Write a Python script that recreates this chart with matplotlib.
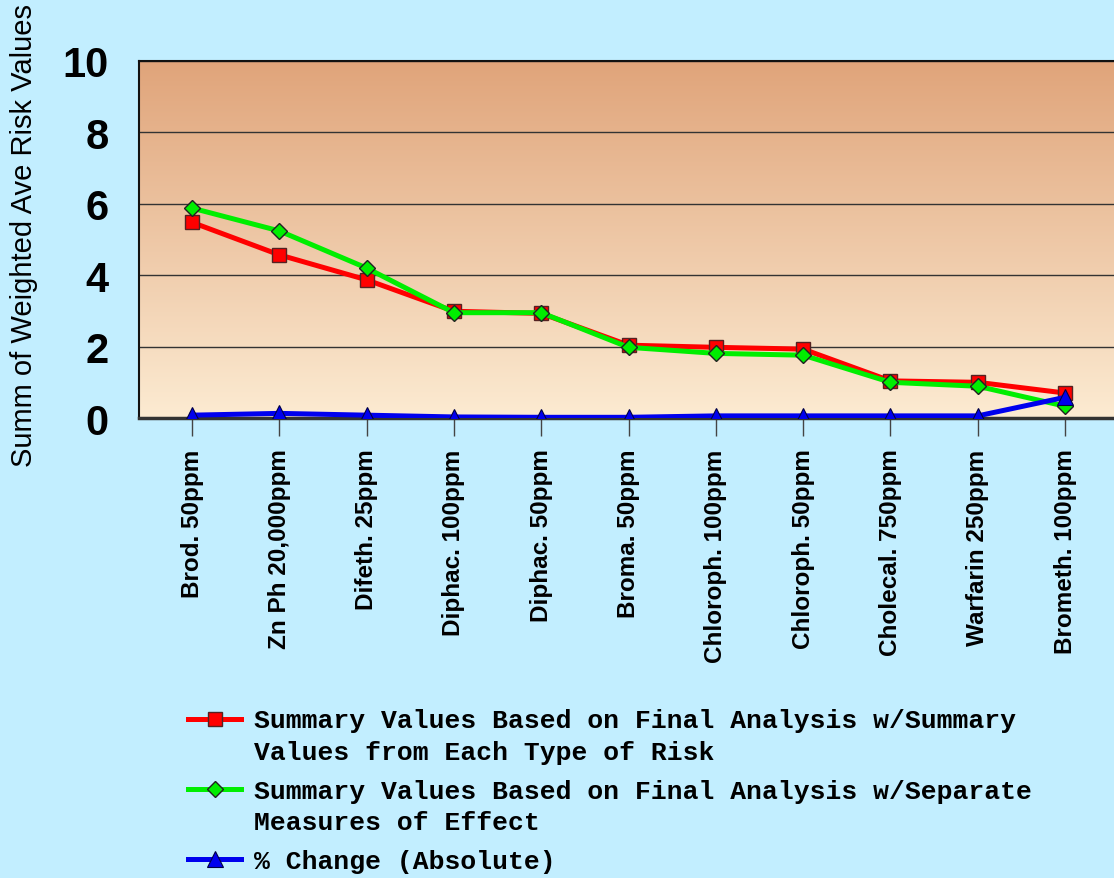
import matplotlib
matplotlib.use("Agg")
import matplotlib.pyplot as plt
from matplotlib.legend_handler import HandlerLine2D
import numpy as np

# data
compounds = ["Brod. 50ppm", "Zn Ph 20,000ppm", "Difeth. 25ppm", "Diphac. 100ppm",
             "Diphac. 50ppm", "Broma. 50ppm", "Chloroph. 100ppm", "Chloroph. 50ppm",
             "Cholecal. 750ppm", "Warfarin 250ppm", "Brometh. 100ppm"]
summary_types = [5.48, 4.57, 3.87, 2.99, 2.93, 2.04, 1.98, 1.93, 1.04, 1.00, 0.70]
summary_effect = [5.88, 5.24, 4.20, 2.95, 2.95, 1.98, 1.81, 1.76, 1.00, 0.89, 0.33]
pct_change = [0.08, 0.13, 0.08, 0.03, 0.02, 0.02, 0.06, 0.06, 0.06, 0.06, 0.58]

labels = ["Summary Values Based on Final Analysis w/Summary\nValues from Each Type of Risk",
          "Summary Values Based on Final Analysis w/Separate\nMeasures of Effect",
          "% Change (Absolute)"]


class FirstLineHandler(HandlerLine2D):
    # put the legend sample next to the first line of a two-line label
    def create_artists(self, legend, orig_handle, xdescent, ydescent, width, height,
                       fontsize, trans):
        return super().create_artists(legend, orig_handle, xdescent,
                                      ydescent - 1.3 * fontsize, width, height,
                                      fontsize, trans)


bg = "#C2EEFF"
fig = plt.figure(figsize=(11.14, 8.79), dpi=100, facecolor=bg)
ax = fig.add_axes([0.1248, 0.5233, 0.8752, 0.4062])

x = np.arange(len(compounds))
xlo, xhi = -0.607, 10.56
ax.set_xlim(xlo, xhi)
ax.set_ylim(0, 10)

# peach gradient background
top = np.array([224, 164, 122]) / 255
bot = np.array([252, 235, 210]) / 255
t = np.linspace(0, 1, 256)[:, None]
grad = (top * (1 - t) + bot * t)[:, None, :].repeat(2, axis=1)
ax.imshow(grad, extent=[xlo, xhi, 0, 10], aspect="auto", zorder=0)

ax.set_yticks([0, 2, 4, 6, 8, 10])
ax.grid(axis="y", color="#333333", linewidth=1.0, zorder=1)
ax.set_axisbelow(True)

l1, = ax.plot(x, summary_types, color="#FF0000", lw=3.6, marker="s", ms=10.5,
              mfc="#FF0000", mec="#552222", mew=1, zorder=3, label=labels[0])
l2, = ax.plot(x, summary_effect, color="#00EE00", lw=3.6, marker="D", ms=8.5,
              mfc="#00EE00", mec="#222222", mew=1, zorder=4, label=labels[1])
l3, = ax.plot(x, pct_change, color="#0000EE", lw=3.6, marker="^", ms=11,
              mfc="#0000EE", mec="#000044", mew=0.8, zorder=5, label=labels[2])

ax.set_xticks(x)
ax.set_xticklabels(compounds, rotation=90, fontsize=17.5, fontweight="bold",
                   family="Liberation Sans", va="top")
ax.tick_params(axis="x", length=13, width=1, color="#444444", pad=9, direction="out")
ax.tick_params(axis="y", length=0, pad=22, labelsize=30)
for lab in ax.get_yticklabels():
    lab.set_fontweight("bold")
    lab.set_family("Liberation Sans")

ax.set_ylabel("Summ of Weighted Ave Risk Values", fontsize=21, family="Liberation Sans")
ax.yaxis.set_label_coords(-0.1035, 0.515)

for s in ["left", "top"]:
    ax.spines[s].set_color("#111111")
    ax.spines[s].set_linewidth(1.5)
ax.spines["right"].set_visible(False)
ax.spines["bottom"].set_color("#333333")
ax.spines["bottom"].set_linewidth(2.5)

leg = fig.legend(handles=[l1, l2, l3], loc="upper left", bbox_to_anchor=(0.169, 0.193),
                 frameon=False,
                 prop={"family": "Liberation Mono", "weight": "bold", "size": 19},
                 handlelength=2.0, handletextpad=0.5, labelspacing=0.57, borderpad=0,
                 borderaxespad=0,
                 handler_map={l1: FirstLineHandler(), l2: FirstLineHandler()})
for txt in leg.get_texts():
    txt.set_linespacing(1.38)

fig.savefig("out.png", dpi=100, facecolor=bg)
